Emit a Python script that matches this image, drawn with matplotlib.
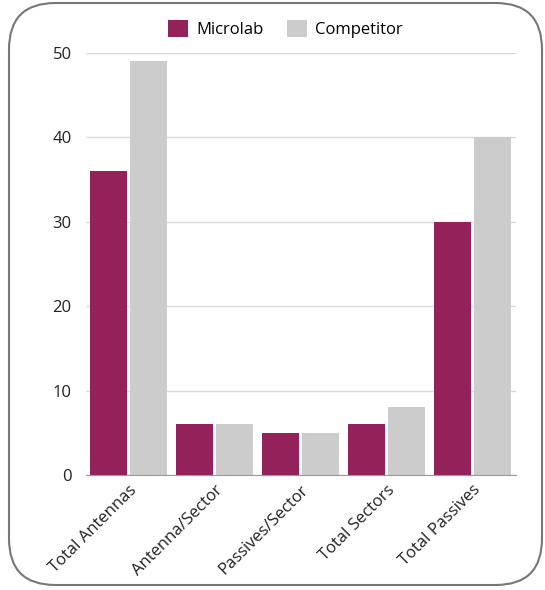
import matplotlib.pyplot as plt
import numpy as np
from matplotlib.patches import FancyBboxPatch

categories = ['Total Antennas', 'Antenna/Sector', 'Passives/Sector', 'Total Sectors', 'Total Passives']
microlab = [36, 6, 5, 6, 30]
competitor = [49, 6, 5, 8, 40]
yticks = [0, 10, 20, 30, 40, 50]

plt.rcParams['font.family'] = ['Open Sans', 'DejaVu Sans']

fig = plt.figure(figsize=(5.45, 5.9), dpi=100)
# rounded frame around the whole chart, kept behind the axes
frame = FancyBboxPatch((9 / 545, 5 / 590), 533 / 545, 582 / 590,
                       boxstyle='round,pad=0,rounding_size=0.085',
                       transform=fig.transFigure, facecolor='white',
                       edgecolor='#777777', linewidth=1.5,
                       mutation_aspect=545 / 590, zorder=-1)
fig.patches.append(frame)

ax = fig.add_axes([85.5 / 545, 1 - 475 / 590, 430 / 545, 422 / 590])
ax.set_facecolor('none')

x = np.arange(len(categories))
w = 0.44
ax.bar(x - 0.233, microlab, w, color='#93215A', label='Microlab', zorder=3)
ax.bar(x + 0.233, competitor, w, color='#CCCCCC', label='Competitor', zorder=3)

ax.set_xlim(-0.5, len(categories) - 0.5)
ax.set_ylim(0, 50)
ax.set_yticks(yticks)
ax.set_yticklabels([str(t) for t in yticks], fontsize=12, color='#222222')
ax.grid(axis='y', color='#d9d9d9', linewidth=1, zorder=0)
ax.tick_params(axis='both', length=0, pad=10)

ax.set_xticks(x)
ax.set_xticklabels(categories, fontsize=12, rotation=45, ha='right',
                   rotation_mode='anchor', color='#222222')
ax.tick_params(axis='x', pad=5)

for s in ['top', 'right', 'left']:
    ax.spines[s].set_visible(False)
ax.spines['bottom'].set_color('#999999')
ax.spines['bottom'].set_zorder(4)

ax.legend(loc='lower center', bbox_to_anchor=(0.465, 1.0), ncol=2, frameon=False,
          fontsize=12, handlelength=1.2, handleheight=1.2, columnspacing=1.4,
          handletextpad=0.5)

fig.savefig('out.png', dpi=100)
